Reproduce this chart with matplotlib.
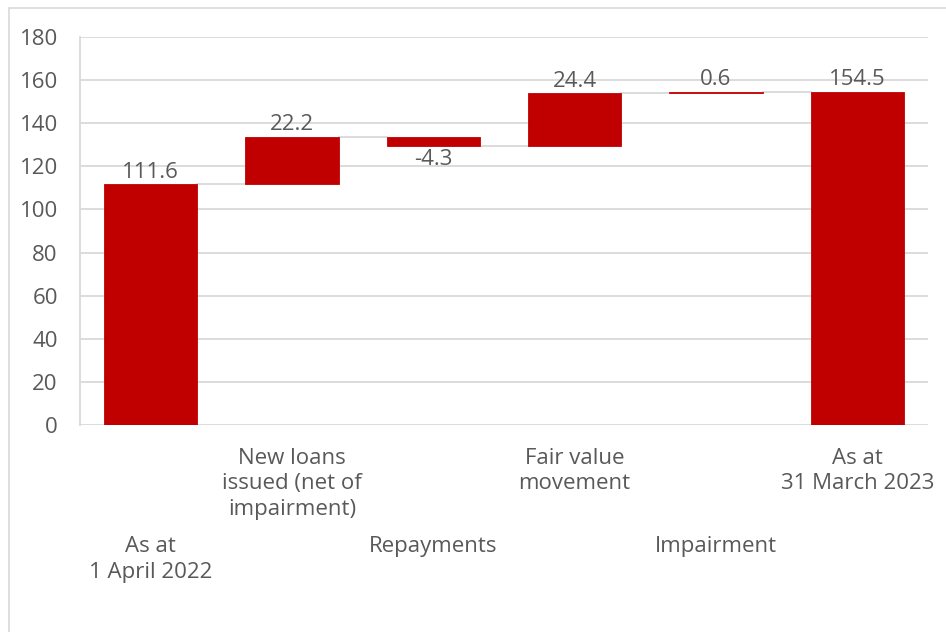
'''
Waterfall chart of loan book movements, 1 April 2022 to 31 March 2023
'''

# importing libraries
import matplotlib.pyplot as plt
from matplotlib.patches import Rectangle
from matplotlib.transforms import blended_transform_factory

# chart data
categories = ["As at\n1 April 2022", "New loans\nissued (net of\nimpairment)",
              "Repayments", "Fair value\nmovement", "Impairment",
              "As at\n31 March 2023"]
changes = [111.6, 22.2, -4.3, 24.4, 0.6, 154.5]
labels = ["111.6", "22.2", "-4.3", "24.4", "0.6", "154.5"]
is_total = [True, False, False, False, False, True]
y_ticks = [0, 20, 40, 60, 80, 100, 120, 140, 160, 180]

# styling constants
RED = "#c00000"
GREY_TEXT = "#595959"
GRID = "#d9d9d9"
FONT = "Open Sans"
FSIZE = 16
BAR_W = 0.66


def waterfall_bounds(changes, is_total):
    ''' Function: waterfall_bounds
        Parameters: list of values, list of bools (True = total bar)
        Returns: list of bottoms, list of tops, list of running totals
    '''
    bottoms = []
    tops = []
    running = []
    total = 0
    for i in range(len(changes)):
        if is_total[i]:
            total = changes[i]
            bottoms.append(0)
            tops.append(total)
        else:
            start = total
            total = total + changes[i]
            bottoms.append(min(start, total))
            tops.append(max(start, total))
        running.append(total)
    return bottoms, tops, running


def main():
    plt.rcParams["font.family"] = [FONT, "DejaVu Sans"]
    fig = plt.figure(figsize=(9.46, 6.32), dpi=100)
    ax = fig.add_axes([80 / 946, 1 - 425 / 632, 848 / 946, 388 / 632])

    # outer border round the chart
    fig.patches.append(Rectangle((9 / 946, -0.01), 1, 1 - 8 / 632 + 0.01,
                                 transform=fig.transFigure, fill=False,
                                 edgecolor=GRID, linewidth=1.2))

    bottoms, tops, running = waterfall_bounds(changes, is_total)
    pos = list(range(len(categories)))
    heights = [tops[i] - bottoms[i] for i in pos]

    # connector lines between bars
    for i in range(len(pos) - 1):
        ax.plot([pos[i] + BAR_W / 2, pos[i + 1] - BAR_W / 2],
                [running[i], running[i]], color=GRID, linewidth=1.3,
                zorder=2)

    ax.bar(pos, heights, bottom=bottoms, width=BAR_W, color=RED,
           edgecolor=RED, linewidth=0.6, zorder=3)

    # value labels
    for i in pos:
        if changes[i] < 0:
            ax.text(pos[i], bottoms[i] - 1.5, labels[i], ha="center",
                    va="top", fontsize=FSIZE, color=GREY_TEXT)
        else:
            ax.text(pos[i], tops[i] + 0.8, labels[i], ha="center",
                    va="bottom", fontsize=FSIZE, color=GREY_TEXT)

    # category labels, staggered on two rows
    trans = blended_transform_factory(ax.transData, ax.transAxes)
    for i in pos:
        if i % 2 == 1:
            y = -0.058
        else:
            y = -0.287
        ax.text(pos[i], y, categories[i], transform=trans, ha="center",
                va="top", fontsize=FSIZE, color=GREY_TEXT, linespacing=1.3)

    # axes, grid and ticks
    ax.set_xlim(-0.5, len(pos) - 0.5)
    ax.set_ylim(0, 180)
    ax.set_yticks(y_ticks)
    ax.set_yticklabels([str(t) for t in y_ticks], fontsize=FSIZE,
                       color=GREY_TEXT)
    ax.set_xticks([])
    ax.tick_params(axis="y", length=0, pad=16)
    ax.grid(axis="y", color=GRID, linewidth=1.3, zorder=0)
    ax.set_axisbelow(True)
    for side in ["top", "right", "bottom"]:
        ax.spines[side].set_visible(False)
    ax.spines["left"].set_color(GRID)
    ax.spines["left"].set_linewidth(1.3)

    fig.savefig("out.png", dpi=100)


main()
